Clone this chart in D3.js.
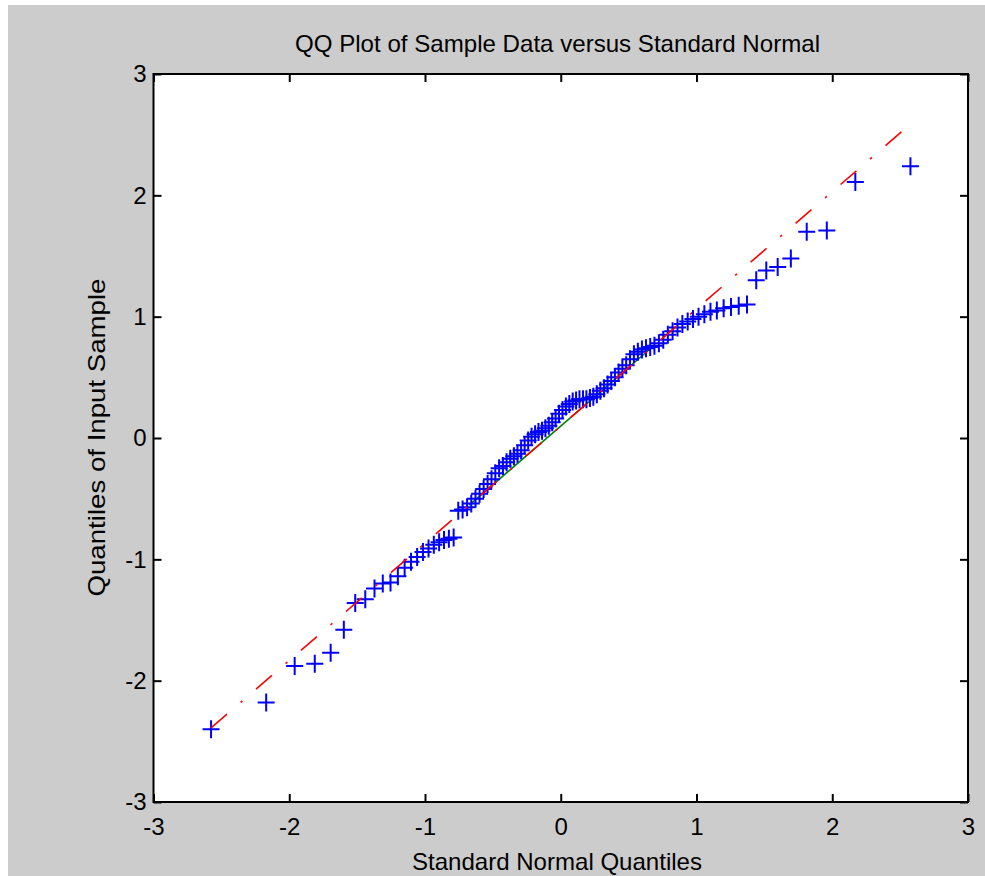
<!DOCTYPE html>
<html>
<head>
<meta charset="utf-8">
<script src="https://cdn.jsdelivr.net/npm/d3@7"></script>
<style>
  html, body { margin: 0; padding: 0; background: #ffffff; }
  svg { display: block; }
  text { font-family: Arial, "Liberation Sans", sans-serif; fill: #000; }
</style>
</head>
<body>
<svg id="chart" width="985" height="876"></svg>
<script>
// Theoretical standard normal quantiles for the 100 ordered observations
const theoreticalQuantiles = [
  -2.576, -2.170, -1.960, -1.812, -1.695, -1.598, -1.514, -1.440, -1.372, -1.311,
  -1.254, -1.200, -1.150, -1.103, -1.058, -1.015, -0.974, -0.935, -0.896, -0.860,
  -0.824, -0.789, -0.755, -0.723, -0.690, -0.659, -0.628, -0.598, -0.568, -0.539,
  -0.510, -0.482, -0.454, -0.426, -0.399, -0.372, -0.345, -0.319, -0.292, -0.266,
  -0.240, -0.215, -0.189, -0.164, -0.138, -0.113, -0.088, -0.063, -0.038, -0.013,
   0.013,  0.038,  0.063,  0.088,  0.113,  0.138,  0.164,  0.189,  0.215,  0.240,
   0.266,  0.292,  0.319,  0.345,  0.372,  0.399,  0.426,  0.454,  0.482,  0.510,
   0.539,  0.568,  0.598,  0.628,  0.659,  0.690,  0.723,  0.755,  0.789,  0.824,
   0.860,  0.896,  0.935,  0.974,  1.015,  1.058,  1.103,  1.150,  1.200,  1.254,
   1.311,  1.372,  1.440,  1.514,  1.598,  1.695,  1.812,  1.960,  2.170,  2.576
];

// Sorted sample values (quantiles of the input sample)
const sampleQuantiles = [
  -2.40, -2.18, -1.88, -1.86, -1.77, -1.58, -1.36, -1.33, -1.24, -1.20,
  -1.19, -1.14, -1.07, -1.02, -0.98, -0.94, -0.91, -0.88, -0.86, -0.84,
  -0.83, -0.82, -0.60, -0.59, -0.57, -0.54, -0.50, -0.46, -0.42, -0.38,
  -0.34, -0.29, -0.25, -0.23, -0.20, -0.17, -0.15, -0.13, -0.10, -0.06,
  -0.02,  0.01,  0.03,  0.05,  0.06,  0.08,  0.10,  0.13,  0.16,  0.20,
   0.23,  0.26,  0.28,  0.30,  0.31,  0.32,  0.32,  0.32,  0.33,  0.34,
   0.36,  0.39,  0.41,  0.44,  0.47,  0.50,  0.54,  0.57,  0.60,  0.65,
   0.69,  0.71,  0.73,  0.74,  0.75,  0.76,  0.78,  0.81,  0.85,  0.88,
   0.91,  0.94,  0.96,  0.98,  1.00,  1.02,  1.04,  1.05,  1.07,  1.08,
   1.09,  1.10,  1.30,  1.38,  1.41,  1.48,  1.70,  1.71,  2.11,  2.24
];

// First and third quartiles used for the reference line
const normalQuartiles = [-0.6745, 0.6745];
const sampleQuartiles = [-0.553, 0.750];

const xTicks = [-3, -2, -1, 0, 1, 2, 3];
const yTicks = [-3, -2, -1, 0, 1, 2, 3];

const titleText = "QQ Plot of Sample Data versus Standard Normal";
const xLabelText = "Standard Normal Quantiles";
const yLabelText = "Quantiles of Input Sample";

const svg = d3.select("#chart");
const W = 985, H = 876;
const plot = { left: 153.5, right: 968, top: 74, bottom: 802 };

// Window background
svg.append("rect").attr("x", 0).attr("y", 0).attr("width", W).attr("height", H).attr("fill", "#ffffff");
svg.append("rect").attr("x", 8).attr("y", 5).attr("width", W - 8).attr("height", H - 5).attr("fill", "#cccccc");

const x = d3.scaleLinear().domain([-3, 3]).range([plot.left, plot.right]);
const y = d3.scaleLinear().domain([-3, 3]).range([plot.bottom, plot.top]);

// Axes area
svg.append("rect")
  .attr("x", plot.left).attr("y", plot.top)
  .attr("width", plot.right - plot.left).attr("height", plot.bottom - plot.top)
  .attr("fill", "#ffffff");

const fmt = d => String(d);
const tickLen = 8;

const gx = svg.append("g").attr("transform", `translate(0,${plot.bottom})`)
  .call(d3.axisBottom(x).tickValues(xTicks).tickFormat(fmt).tickSizeInner(-tickLen).tickSizeOuter(0).tickPadding(16));
const gxTop = svg.append("g").attr("transform", `translate(0,${plot.top})`)
  .call(d3.axisTop(x).tickValues(xTicks).tickFormat("").tickSizeInner(-tickLen).tickSizeOuter(0));
const gy = svg.append("g").attr("transform", `translate(${plot.left},0)`)
  .call(d3.axisLeft(y).tickValues(yTicks).tickFormat(fmt).tickSizeInner(-tickLen).tickSizeOuter(0).tickPadding(7));
const gyRight = svg.append("g").attr("transform", `translate(${plot.right},0)`)
  .call(d3.axisRight(y).tickValues(yTicks).tickFormat("").tickSizeInner(-tickLen).tickSizeOuter(0));

[gx, gxTop, gy, gyRight].forEach(g => {
  g.select(".domain").remove();
  g.selectAll(".tick line").attr("stroke", "#000").attr("stroke-width", 2);
  g.selectAll(".tick text").style("font-size", "24px").attr("fill", "#000");
});

// Reference lines: solid between the quartiles, dash-dot over the whole data range
const slope = (sampleQuartiles[1] - sampleQuartiles[0]) / (normalQuartiles[1] - normalQuartiles[0]);
const intercept = sampleQuartiles[0] - slope * normalQuartiles[0];
const xMin = d3.min(theoreticalQuantiles), xMax = d3.max(theoreticalQuantiles);
const line = d3.line().x(d => x(d[0])).y(d => y(d[1]));

svg.append("path")
  .datum(normalQuartiles.map((q, i) => [q, sampleQuartiles[i]]))
  .attr("d", line)
  .attr("fill", "none").attr("stroke", "#008000").attr("stroke-width", 1.6);

svg.append("clipPath").attr("id", "plotClip").append("rect")
  .attr("x", plot.left).attr("y", plot.top)
  .attr("width", plot.right - plot.left).attr("height", plot.bottom - plot.top);

const points = theoreticalQuantiles.map((q, i) => [q, sampleQuantiles[i]]);

svg.append("g").attr("clip-path", "url(#plotClip)")
  .selectAll("path.marker")
  .data(points)
  .join("path")
  .attr("class", "marker")
  .attr("transform", d => `translate(${x(d[0])},${y(d[1])})`)
  .attr("d", "M-8.5,0H8.5M0,-9V9")
  .attr("fill", "none").attr("stroke", "#0000ff").attr("stroke-width", 2);

svg.append("path")
  .datum([[xMin, intercept + slope * xMin], [xMax, intercept + slope * xMax]])
  .attr("d", line)
  .attr("fill", "none").attr("stroke", "#ff0000").attr("stroke-width", 1.6)
  .attr("stroke-dasharray", "21,18,2.4,18");

// Box around the axes
svg.append("rect")
  .attr("x", plot.left).attr("y", plot.top)
  .attr("width", plot.right - plot.left).attr("height", plot.bottom - plot.top)
  .attr("fill", "none").attr("stroke", "#000").attr("stroke-width", 2);

// Titles
svg.append("text").attr("x", 557.5).attr("y", 52).attr("text-anchor", "middle")
  .style("font-size", "24px").attr("textLength", 525).attr("lengthAdjust", "spacingAndGlyphs")
  .text(titleText);
svg.append("text").attr("x", 557).attr("y", 870).attr("text-anchor", "middle")
  .style("font-size", "24px").attr("textLength", 290).attr("lengthAdjust", "spacingAndGlyphs")
  .text(xLabelText);
svg.append("text").attr("transform", "translate(105,437.5) rotate(-90)").attr("text-anchor", "middle")
  .style("font-size", "24px").attr("textLength", 318).attr("lengthAdjust", "spacingAndGlyphs")
  .text(yLabelText);
</script>
</body>
</html>
